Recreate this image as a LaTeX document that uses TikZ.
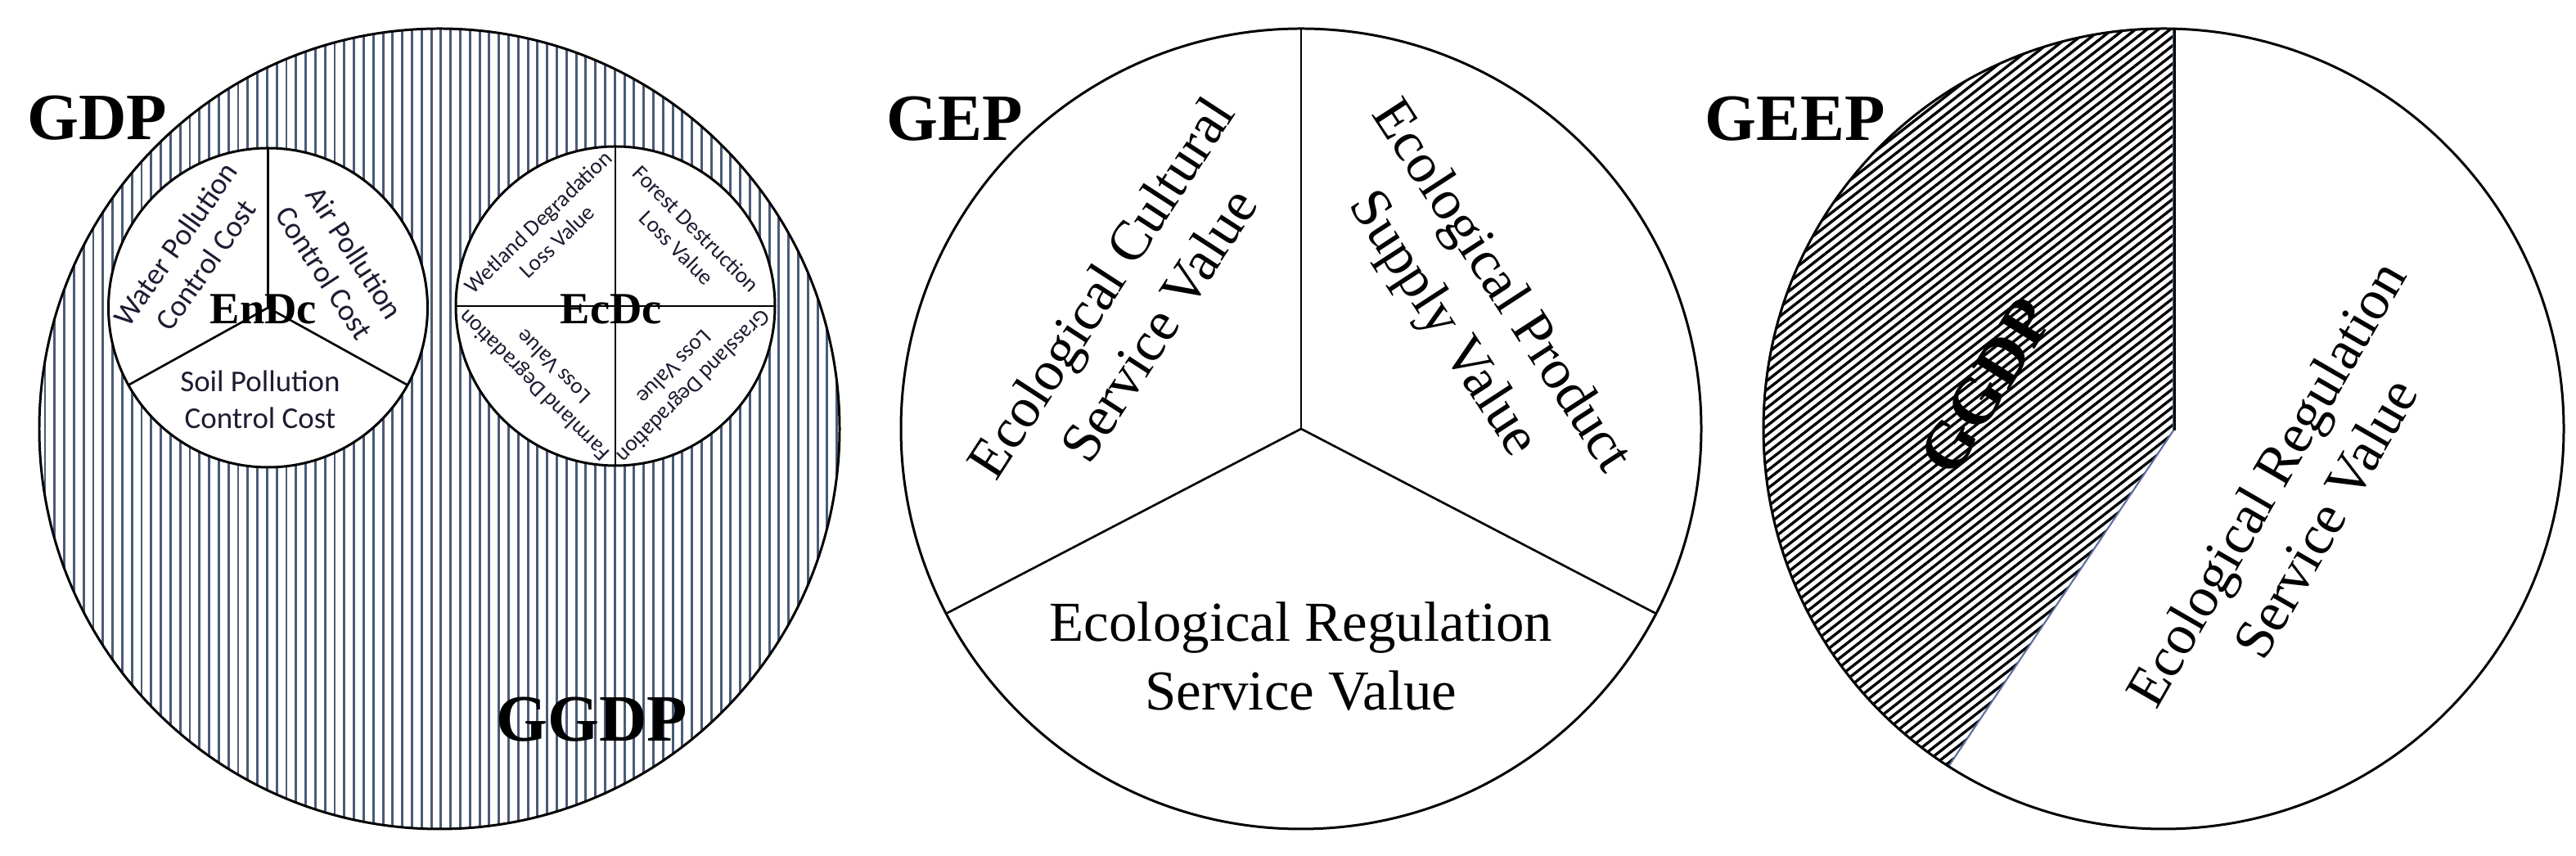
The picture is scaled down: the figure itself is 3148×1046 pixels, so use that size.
\documentclass[tikz,border=0pt]{standalone}
\usepackage{fontspec}
\setmainfont{Liberation Serif}
\newfontfamily\calfont{Carlito}
\definecolor{hatchA}{RGB}{75,91,120}
\definecolor{txtc}{RGB}{28,28,50}
\definecolor{edgeB}{RGB}{90,111,160}
\tikzset{
  biglab/.style={font=\fontsize{23}{27}\selectfont\bfseries, inner sep=0pt},
  midlab/.style={font=\fontsize{19.6}{24}\selectfont, align=center, inner sep=0pt},
  smlab/.style={font=\calfont\fontsize{10.5}{12.8}\selectfont, text=txtc, align=center, inner sep=0pt},
  tinylab/.style={font=\calfont\fontsize{7.8}{9.4}\selectfont, text=txtc, align=center, inner sep=0pt},
  dclab/.style={font=\fontsize{15.5}{18}\selectfont\bfseries, inner sep=0pt},
  ring/.style={draw=black, line width=0.85pt},
  spoke/.style={draw=black, line width=0.75pt},
}
\begin{document}
\begin{tikzpicture}[x=0.01cm, y=0.01cm]
\useasboundingbox (0,0) rectangle (3148,1046);
\fill[white] (0,0) rectangle (3148,1046);

% ---------- left: GDP ----------
\coordinate (c1) at (537,522);
\coordinate (e1) at (327.5,670);
\coordinate (e2) at (752,672);
\begin{scope}
  \clip (c1) circle (489);
  \foreach \i in {0,...,87} {
    \draw[hatchA, line width=0.85pt] ({7.8+\i*11.8},20) -- ({7.8+\i*11.8},1030);
  }
\end{scope}
\draw[ring] (c1) circle (489);
\draw[ring, fill=white] (e1) circle (195);
\draw[ring, fill=white] (e2) circle (195);
\draw[spoke] (e1) -- ++(90:195);
\draw[spoke] (e1) -- ++(-151:195);
\draw[spoke] (e1) -- ++(-29:195);
\draw[spoke] (e2) ++(-195,0) -- ++(390,0);
\draw[spoke] (e2) ++(0,-195) -- ++(0,390);

\node[biglab] (gdp) at (119,902) {GDP};
\node[biglab] (ggdp1) at (723,167) {GGDP};
\node[smlab, rotate=55] (wpc) at (233,735) {Water Pollution\\Control Cost};
\node[smlab, rotate=-57] (apc) at (415,725) {Air Pollution\\Control Cost};
\node[smlab] (spc) at (318,558) {Soil Pollution\\Control Cost};
\node[dclab] (endc) at (322,668) {EnDc};
\node[tinylab, rotate=44] (wdl) at (669,763) {Wetland Degradation\\Loss Value};
\node[tinylab, rotate=-45] (fdl) at (839,755) {Forest Destruction\\Loss Value};
\node[tinylab, rotate=-135] (gdl) at (836,585) {Grassland Degradation\\Loss Value};
\node[tinylab, rotate=135] (fmdl) at (664,586) {Farmland Degradation\\Loss Value};
\node[dclab] (ecdc) at (747,668) {EcDc};

% ---------- middle: GEP ----------
\coordinate (c2) at (1590,522);
\draw[ring] (c2) circle (489);
\draw[spoke] (c2) -- ++(90:489);
\draw[spoke] (c2) -- ++(-152.5:489);
\draw[spoke] (c2) -- ++(-27.5:489);
\node[biglab] (gep) at (1167,901) {GEP};
\node[midlab, rotate=57] (ecs) at (1380,672) {Ecological Cultural\\Service Value};
\node[midlab, rotate=-57] (eps) at (1797,672) {Ecological Product\\Supply Value};
\node[midlab] (ers) at (1590,244) {Ecological Regulation\\Service Value};

% ---------- right: GEEP ----------
\coordinate (c3) at (2644,522);
\begin{scope}
  \clip (2656,1010.85) -- (2656,520) -- (2381.3,109.6)
        arc[start angle=237.5, end angle=88.59, radius=489] -- cycle;
  \begin{scope}[shift={(2500,560)}, rotate=38]
    \foreach \i in {-70,...,70} {
      \draw[black, line width=0.95pt] (-700,{\i*8.7}) -- (700,{\i*8.7});
    }
  \end{scope}
\end{scope}
\draw[edgeB, line width=0.6pt] (2656,1010.85) -- (2656,520) -- (2381.3,109.6)
        arc[start angle=237.5, end angle=88.59, radius=489] -- cycle;
\draw[black, line width=0.6pt] (2657.5,1010.85) -- (2657.5,520);
\draw[ring] (c3) circle (489);
\node[biglab] (geep) at (2194,901) {GEEP};
\node[biglab, rotate=58] (ggdp2) at (2427,574) {GGDP};
\node[midlab, rotate=60] (ers2) at (2805,434) {Ecological Regulation\\Service Value};
\end{tikzpicture}
\end{document}
